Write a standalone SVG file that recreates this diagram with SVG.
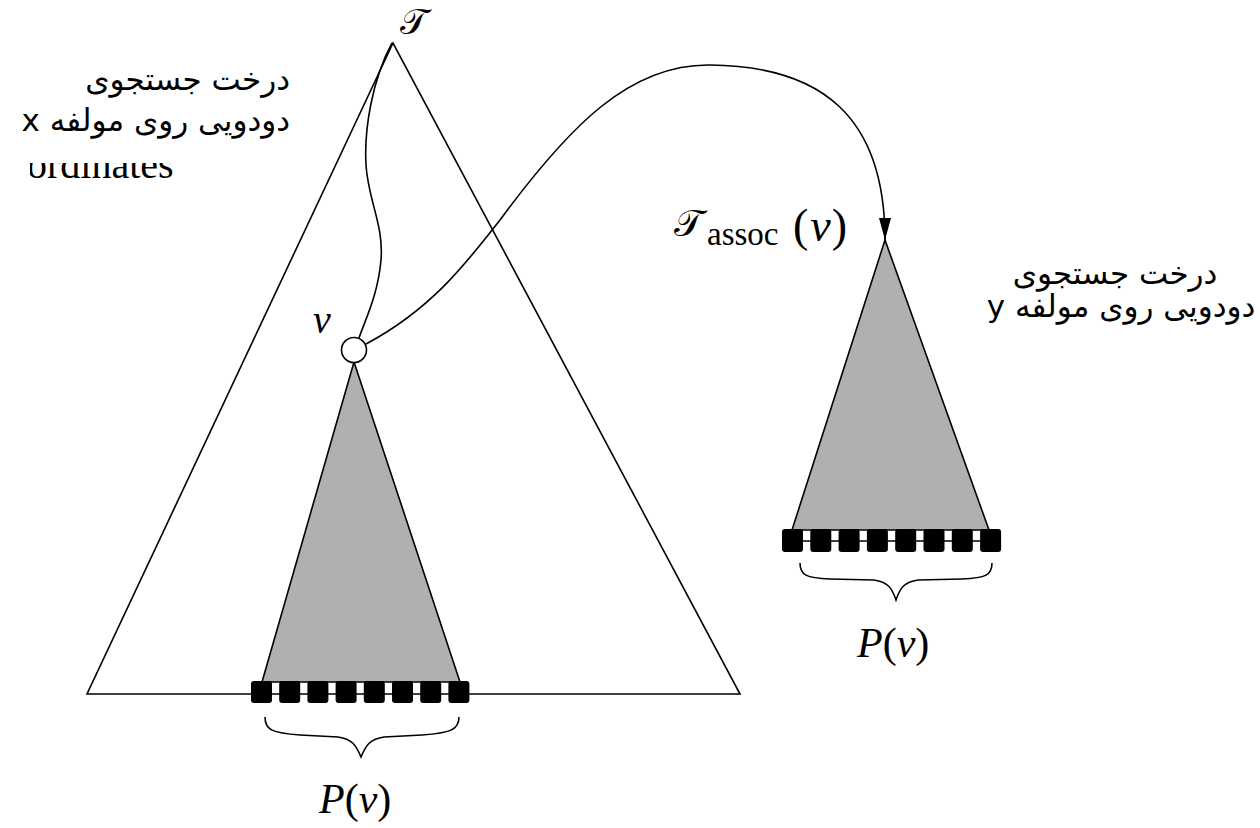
<svg xmlns="http://www.w3.org/2000/svg" width="1260" height="828" viewBox="0 0 1260 828">
<style>
.ln{fill:none;stroke:#000;stroke-width:1.6}
.tri{fill:#fff;stroke:#000;stroke-width:1.6}
.sub{fill:#b0b0b0;stroke:#000;stroke-width:1.6}
.sq{fill:#000}
.fa{font-family:"DejaVu Sans",sans-serif;font-size:31px;fill:#000}
.m{font-family:"Liberation Serif",serif;fill:#000}
.it{font-style:italic}
</style>
<defs>
<marker id="arr" markerUnits="userSpaceOnUse" markerWidth="24" markerHeight="14" refX="22" refY="7" orient="auto" viewBox="0 0 24 14">
<path d="M0,1 L22,7 L0,13 z" fill="#000"/>
</marker>
<clipPath id="clipOrd"><rect x="30" y="163" width="200" height="30"/></clipPath>
</defs>
<rect width="1260" height="828" fill="#fff"/>

<g id="tree-T">
<polygon class="tri" points="393,43 87,694 740,694"/>
<text class="m" x="400" y="34" font-size="36">𝒯</text>
</g>

<g id="subtree-v">
<polygon class="sub" points="354,362 262,682 460,682"/>
<g class="sq">
<rect x="251" y="681" width="21" height="22" rx="3"/>
<rect x="279.2" y="681" width="21" height="22" rx="3"/>
<rect x="307.4" y="681" width="21" height="22" rx="3"/>
<rect x="335.6" y="681" width="21" height="22" rx="3"/>
<rect x="363.8" y="681" width="21" height="22" rx="3"/>
<rect x="392" y="681" width="21" height="22" rx="3"/>
<rect x="420.2" y="681" width="21" height="22" rx="3"/>
<rect x="448.4" y="681" width="21" height="22" rx="3"/>
</g>
<path class="ln" d="M265,717 C265,730 272,733 300,735 L338,737 C352,739 356,745 361,757 C366,745 370,739 384,737 L422,735 C450,733 459,730 459,717"/>
<text class="m" x="319" y="813" font-size="42"><tspan class="it">P</tspan>(<tspan class="it">ν</tspan>)</text>
</g>

<g id="node-v">
<circle cx="354" cy="350" r="12.5" fill="#fff" stroke="#000" stroke-width="1.6"/>
<text class="m it" x="313" y="333" font-size="40">ν</text>
</g>

<g id="tree-assoc">
<polygon class="sub" points="885,240 792,530 989,530"/>
<line class="ln" x1="785" y1="541" x2="1000" y2="541"/>
<g class="sq">
<rect x="782" y="529" width="21" height="23" rx="3"/>
<rect x="810.3" y="529" width="21" height="23" rx="3"/>
<rect x="838.6" y="529" width="21" height="23" rx="3"/>
<rect x="866.9" y="529" width="21" height="23" rx="3"/>
<rect x="895.2" y="529" width="21" height="23" rx="3"/>
<rect x="923.5" y="529" width="21" height="23" rx="3"/>
<rect x="951.8" y="529" width="21" height="23" rx="3"/>
<rect x="980.1" y="529" width="21" height="23" rx="3"/>
</g>
<path class="ln" d="M800,563 C800,575 806,578 830,579 L874,580 C888,582 892,588 896,600 C900,588 904,582 918,580 L962,579 C986,578 992,575 992,563"/>
<text class="m" x="857" y="657" font-size="42"><tspan class="it">P</tspan>(<tspan class="it">ν</tspan>)</text>
<text class="m" x="674" y="236" font-size="38">𝒯</text>
<text class="m" x="707" y="245" font-size="33">assoc</text>
<text class="m" x="793" y="241" font-size="46">(<tspan class="it" dx="2">ν</tspan><tspan dx="1">)</tspan></text>
</g>

<g id="label-x">
<text class="fa" x="290" y="90" text-anchor="start" direction="rtl">درخت جستجوی</text>
<text class="fa" x="290" y="131" text-anchor="start" direction="rtl">دودویی روی مولفه x</text>
<text class="m" x="27" y="178" font-size="40" clip-path="url(#clipOrd)">ordinates</text>
</g>

<g id="label-y">
<text class="fa" x="1115" y="284" text-anchor="middle" direction="rtl">درخت جستجوی</text>
<text class="fa" x="1121" y="317" text-anchor="middle" direction="rtl">دودویی روی مولفه y</text>
</g>

<g id="connectors">
<path class="ln" d="M392,43 C372,80 364,130 366,165 C368,200 384,225 381,260 C378,295 365,320 359,338"/>
<path class="ln" marker-end="url(#arr)" d="M366,344 C430,310 465,265 500,220 C570,125 630,64 710,65 C820,66 885,115 885,240"/>
</g>
</svg>
